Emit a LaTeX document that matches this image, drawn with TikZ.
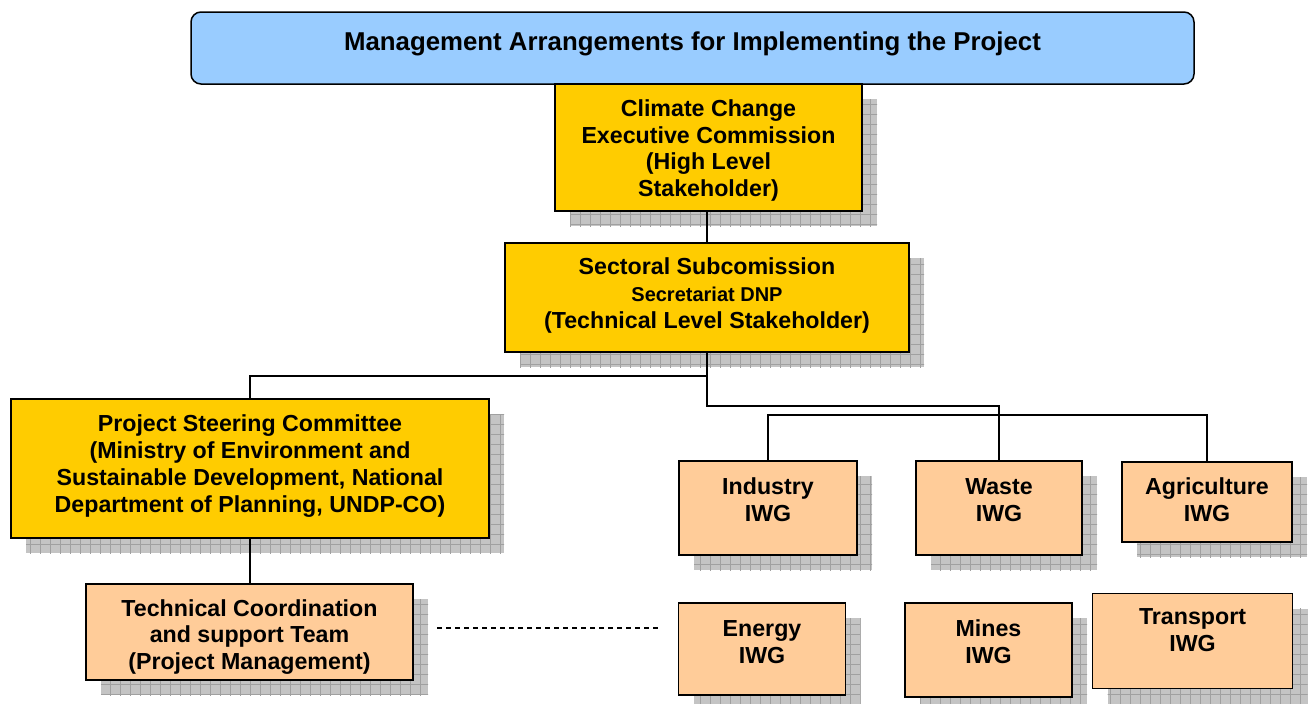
\documentclass[tikz,border=0pt]{standalone}
\usepackage{fontspec}
\setmainfont{Liberation Sans}
\usetikzlibrary{calc,patterns.meta}
\definecolor{cyellow}{RGB}{255,204,0}
\definecolor{cpeach}{RGB}{255,204,153}
\definecolor{ctitle}{RGB}{153,204,255}
\definecolor{cshadow}{RGB}{196,196,196}
\definecolor{cshline}{RGB}{160,160,160}
\newcommand\bxfont{\fontsize{23.2}{26.7}\selectfont\bfseries}
\newcommand\secfont{\fontsize{20}{23}\selectfont\bfseries}
\newcommand\ttlfont{\fontsize{25.8}{29}\selectfont\bfseries}
\pgfdeclarelayer{shadowl}
\pgfdeclarelayer{linel}
\pgfsetlayers{shadowl,linel,main}
\tikzset{
  box/.style={draw=black, line width=1.8pt, rectangle, inner sep=0pt, outer sep=0pt},
  ybox/.style={box, fill=cyellow},
  pbox/.style={box, fill=cpeach},
  titlebox/.style={draw=black, line width=1.5pt, rounded corners=10pt, fill=ctitle, inner sep=0pt, outer sep=0pt},
  btxt/.style={align=center, font=\bxfont, text=black, inner sep=0pt},
  conn/.style={draw=black, line width=1.3pt},
  dashconn/.style={draw=black, line width=1.2pt, dash pattern=on 5pt off 4pt},
  shbox/.style={fill=cshadow, postaction={pattern={Hatch[angle=0,distance=10pt,line width=0.7pt]}, pattern color=cshline}},
}
\newcommand\boxshadow[1]{\path[shbox] ($(#1.north west)+(15,15)$) rectangle ($(#1.south east)+(15,15)$);}
\begin{document}
\begin{tikzpicture}[x=1pt,y=-1pt]
\useasboundingbox (0,0) rectangle (1309,704);
% title
\node[titlebox, minimum width=1003pt, minimum height=72pt,
  label={[btxt, font=\ttlfont, yshift=4pt]center:Management Arrangements for Implementing the Project}]
  (title) at (692.5,48) {};
% main boxes
\node[ybox, minimum width=307pt, minimum height=127pt,
  label={[btxt, yshift=-3pt]center:Climate Change\\Executive Commission\\(High Level\\Stakeholder)}]
  (ccec) at (708.5,147.5) {};
\node[ybox, minimum width=404pt, minimum height=109pt,
  label={[btxt, yshift=2pt]center:Sectoral Subcomission\\{\secfont Secretariat DNP}\\(Technical Level Stakeholder)}]
  (sect) at (707,297.5) {};
\node[ybox, minimum width=478pt, minimum height=139pt,
  label={[btxt, yshift=2.5pt]center:Project Steering Committee\\(Ministry of Environment and\\Sustainable Development, National\\Department of Planning, UNDP-CO)}]
  (psc) at (250,468.5) {};
\node[pbox, minimum width=327pt, minimum height=96pt,
  label={[btxt, yshift=-5pt]center:Technical Coordination\\and support Team\\(Project Management)}]
  (tcst) at (249.5,632) {};
% IWG boxes
\node[pbox, minimum width=178pt, minimum height=94pt,
  label={[btxt, yshift=8pt]center:Industry\\IWG}] (ind) at (768,508) {};
\node[pbox, minimum width=166pt, minimum height=94pt,
  label={[btxt, yshift=8pt]center:Waste\\IWG}] (waste) at (999,508) {};
\node[pbox, minimum width=170pt, minimum height=80pt,
  label={[btxt, yshift=2pt]center:Agriculture\\IWG}] (agri) at (1207,502) {};
\node[pbox, minimum width=167pt, minimum height=92pt,
  label={[btxt, yshift=7pt]center:Energy\\IWG}] (energy) at (762,649) {};
\node[pbox, minimum width=167pt, minimum height=94pt,
  label={[btxt, yshift=8pt]center:Mines\\IWG}] (mines) at (988.5,650) {};
\node[pbox, minimum width=200pt, minimum height=95pt,
  label={[btxt, yshift=11pt]center:Transport\\IWG}] (transport) at (1192.5,641) {};
% shadows
\begin{pgfonlayer}{shadowl}
\foreach \b in {ccec,sect,psc,tcst,ind,waste,agri,energy,mines,transport}{\boxshadow{\b}}
\end{pgfonlayer}
% connectors
\begin{pgfonlayer}{linel}
\draw[conn] (sect.north |- ccec.south) -- (sect.north);
\draw[conn] (sect.south) -- ++(0,24) -| (psc.north);
\draw[conn] (sect.south) -- ++(0,54) -| (waste.north);
\draw[conn] (ind.north) -- ++(0,-46) -| (agri.north);
\draw[conn] (psc.south) -- (psc.south |- tcst.north);
\draw[dashconn] ($(tcst.east)+(24,-4)$) -- ($(tcst.east -| energy.west)+(-17,-4)$);
\end{pgfonlayer}
\end{tikzpicture}
\end{document}
